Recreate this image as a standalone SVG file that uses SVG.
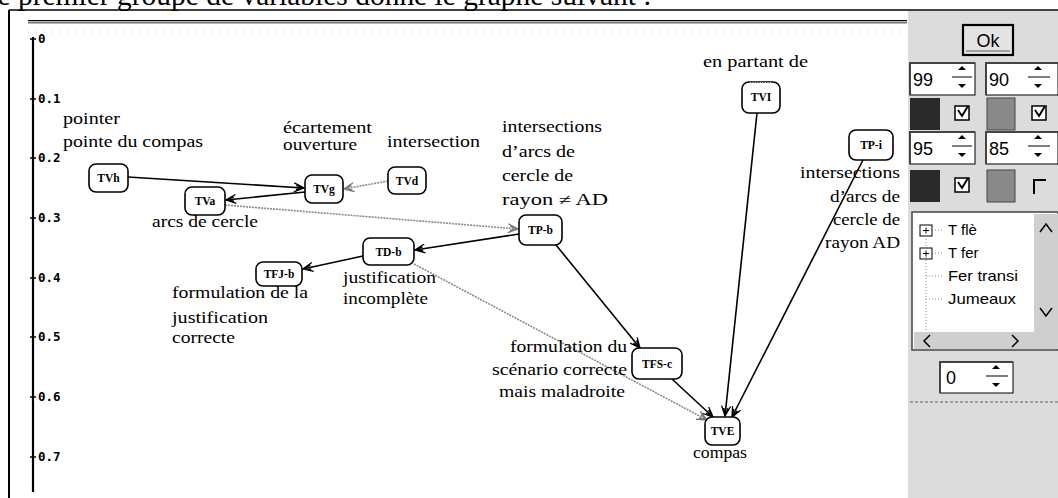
<svg xmlns="http://www.w3.org/2000/svg" width="1058" height="498" viewBox="0 0 1058 498">
<defs>
<style>
.lbl{font-family:"Liberation Serif","DejaVu Serif",serif;font-size:16px;fill:#000}
.nd rect{fill:#fff;stroke:#000;stroke-width:1.6}
.nd text{font-family:"Liberation Serif","DejaVu Serif",serif;font-size:11.5px;font-weight:bold;text-anchor:middle;fill:#000}
.blk{stroke:#000;stroke-width:1.6;fill:none;marker-end:url(#ab)}
.gry{stroke:#8a8a8a;stroke-width:1.6;fill:none;stroke-dasharray:2 1;marker-end:url(#ag)}
.ax{font-family:"DejaVu Sans Mono","Liberation Mono",monospace;font-size:12.5px;font-weight:bold;fill:#000}
.ui{font-family:"Liberation Sans","DejaVu Sans",sans-serif;fill:#000}
.box{fill:#fff;stroke:#000;stroke-width:1}
</style>
<marker id="ab" viewBox="0 0 12 10" refX="11" refY="5" markerWidth="12" markerHeight="10" markerUnits="userSpaceOnUse" orient="auto">
<path d="M1,0.5 L11,5 L1,9.5 M3,3 L11,5 L3,7" fill="none" stroke="#000" stroke-width="1.3"/>
</marker>
<marker id="ag" viewBox="0 0 12 10" refX="11" refY="5" markerWidth="12" markerHeight="10" markerUnits="userSpaceOnUse" orient="auto">
<path d="M1,0.5 L11,5 L1,9.5 M3,3 L11,5 L3,7" fill="none" stroke="#777" stroke-width="1.3"/>
</marker>
</defs>
<rect x="0" y="0" width="1058" height="498" fill="#fff"/>
<text x="-20.5" y="5" font-family="Liberation Serif,serif" font-size="29.5" textLength="672" lengthAdjust="spacingAndGlyphs">Le premier groupe de variables donne le graphe suivant :</text>
<!-- frame -->
<g id="frame" fill="none" stroke="#000">
<line x1="9" y1="10" x2="1058" y2="10" stroke-width="1.5"/>
<line x1="9" y1="10" x2="9" y2="498" stroke-width="2"/>
<line x1="28" y1="20.5" x2="907" y2="20.5" stroke-width="1"/>
<line x1="28" y1="22.5" x2="907" y2="22.5" stroke="#777" stroke-width="2"/>
<line x1="28" y1="32" x2="905" y2="32" stroke="#bbb" stroke-width="1" stroke-dasharray="1 7"/>
</g>
<!-- axis -->
<g id="axis">
<line x1="33" y1="37" x2="33" y2="492" stroke="#000" stroke-width="2.2"/>
<g stroke="#000" stroke-width="1.5">
<line x1="30" y1="39" x2="36" y2="39"/><line x1="30" y1="99" x2="36" y2="99"/><line x1="30" y1="158" x2="36" y2="158"/><line x1="30" y1="218" x2="36" y2="218"/><line x1="30" y1="278" x2="36" y2="278"/><line x1="30" y1="337" x2="36" y2="337"/><line x1="30" y1="397" x2="36" y2="397"/><line x1="30" y1="457" x2="36" y2="457"/>
</g>
<text class="ax" x="38" y="43">0</text>
<text class="ax" x="38" y="103">0.1</text>
<text class="ax" x="38" y="162">0.2</text>
<text class="ax" x="38" y="222">0.3</text>
<text class="ax" x="38" y="282">0.4</text>
<text class="ax" x="38" y="341">0.5</text>
<text class="ax" x="38" y="401">0.6</text>
<text class="ax" x="38" y="461">0.7</text>
</g>
<!-- connectors -->
<g id="connectors">
<path class="blk" d="M128,177 L304,188"/>
<path class="blk" d="M305,192 L226,200"/>
<path class="gry" d="M388,181 L344,189"/>
<path class="gry" d="M225,205 L518,229"/>
<path class="blk" d="M519,234 L415,250"/>
<path class="blk" d="M363,256 L303,269"/>
<path class="blk" d="M556,245 L640,348"/>
<path class="gry" d="M414,264 L707,420"/>
<path class="blk" d="M672,379 L713,417"/>
<path class="blk" d="M757,113 L725,416"/>
<path class="blk" d="M863,160 L732,417"/>
</g>
<!-- nodes -->
<g id="TVh" class="nd"><rect x="89" y="164" width="39" height="28" rx="7"/><text x="108.5" y="182">TVh</text></g>
<g id="TVa" class="nd"><rect x="185" y="187" width="40" height="28" rx="7"/><text x="205" y="205">TVa</text></g>
<g id="TVg" class="nd"><rect x="305" y="175" width="38" height="28" rx="7"/><text x="324" y="193">TVg</text></g>
<g id="TVd" class="nd"><rect x="388" y="167" width="38" height="27" rx="7"/><text x="407" y="185">TVd</text></g>
<g id="TP-b" class="nd"><rect x="519" y="215" width="43" height="30" rx="7"/><text x="540.5" y="234">TP-b</text></g>
<g id="TD-b" class="nd"><rect x="363" y="238" width="51" height="27" rx="7"/><text x="388.5" y="256">TD-b</text></g>
<g id="TFJ-b" class="nd"><rect x="256" y="262" width="46" height="24" rx="7"/><text x="279" y="278">TFJ-b</text></g>
<g id="TFS-c" class="nd"><rect x="632" y="348" width="50" height="31" rx="7"/><text x="657" y="368">TFS-c</text></g>
<g id="TVE" class="nd"><rect x="705" y="417" width="35" height="28" rx="7"/><text x="722.5" y="435">TVE</text></g>
<g id="TVI" class="nd"><rect x="742" y="82" width="38" height="31" rx="7"/><line x1="750" y1="83" x2="772" y2="83" stroke="#fff" stroke-width="1.6" stroke-dasharray="1 1.5"/><text x="761" y="101">TVI</text></g>
<g id="TP-i" class="nd"><rect x="849" y="130" width="44" height="30" rx="7"/><text x="871" y="149">TP-i</text></g>
<!-- labels -->
<g id="labels">
<text class="lbl" x="63" y="124" textLength="57" lengthAdjust="spacingAndGlyphs">pointer</text>
<text class="lbl" x="63" y="147" textLength="140" lengthAdjust="spacingAndGlyphs">pointe du compas</text>
<text class="lbl" x="283" y="133" textLength="89" lengthAdjust="spacingAndGlyphs">écartement</text>
<text class="lbl" x="283" y="150" textLength="74" lengthAdjust="spacingAndGlyphs">ouverture</text>
<text class="lbl" x="387" y="147" textLength="93" lengthAdjust="spacingAndGlyphs">intersection</text>
<text class="lbl" x="502" y="132" textLength="100" lengthAdjust="spacingAndGlyphs">intersections</text>
<text class="lbl" x="502" y="157" textLength="73" lengthAdjust="spacingAndGlyphs">d’arcs de</text>
<text class="lbl" x="502" y="181" textLength="71" lengthAdjust="spacingAndGlyphs">cercle de</text>
<text class="lbl" x="502" y="205" textLength="106" lengthAdjust="spacingAndGlyphs">rayon ≠ AD</text>
<text class="lbl" x="703" y="67" textLength="105" lengthAdjust="spacingAndGlyphs">en partant de</text>
<text class="lbl" x="800" y="178" textLength="100" lengthAdjust="spacingAndGlyphs">intersections</text>
<text class="lbl" x="830" y="202" textLength="70" lengthAdjust="spacingAndGlyphs">d’arcs de</text>
<text class="lbl" x="833" y="225" textLength="67" lengthAdjust="spacingAndGlyphs">cercle de</text>
<text class="lbl" x="825" y="248" textLength="75" lengthAdjust="spacingAndGlyphs">rayon AD</text>
<text class="lbl" x="152" y="227" textLength="106" lengthAdjust="spacingAndGlyphs">arcs de cercle</text>
<text class="lbl" x="343" y="283" textLength="93" lengthAdjust="spacingAndGlyphs">justification</text>
<text class="lbl" x="343" y="304" textLength="85" lengthAdjust="spacingAndGlyphs">incomplète</text>
<text class="lbl" x="172" y="298" textLength="136" lengthAdjust="spacingAndGlyphs">formulation de la</text>
<text class="lbl" x="172" y="323" textLength="96" lengthAdjust="spacingAndGlyphs">justification</text>
<text class="lbl" x="172" y="343" textLength="63" lengthAdjust="spacingAndGlyphs">correcte</text>
<text class="lbl" x="510" y="352" textLength="117" lengthAdjust="spacingAndGlyphs">formulation du</text>
<text class="lbl" x="492" y="375" textLength="135" lengthAdjust="spacingAndGlyphs">scénario correcte</text>
<text class="lbl" x="499" y="397" textLength="126" lengthAdjust="spacingAndGlyphs">mais maladroite</text>
<text class="lbl" x="693" y="458" textLength="54" lengthAdjust="spacingAndGlyphs">compas</text>
</g>
<!-- right panel -->
<g id="panel">
<rect x="908" y="11" width="150" height="487" fill="#dcdcdc"/>
<rect x="963" y="25" width="50" height="30" fill="#e4e4e4" stroke="#000" stroke-width="2.2"/>
<line x1="966" y1="51" x2="1010" y2="51" stroke="#888" stroke-width="1.5"/>
<text class="ui" x="988" y="47" font-size="18" text-anchor="middle">Ok</text>
<rect class="box" x="910" y="63" width="65" height="32"/>
<path d="M910,95 L910,63 L975,63" fill="none" stroke="#444" stroke-width="2"/>
<text class="ui" x="913" y="86" font-size="18">99</text>
<path d="M958,70 L962,66 L966,70 Z M958,84 L962,88 L966,84 Z" fill="#000"/>
<line x1="952" y1="77" x2="972" y2="77" stroke="#555" stroke-width="1.5"/>
<rect class="box" x="986" y="63" width="72" height="32"/>
<path d="M986,95 L986,63 L1058,63" fill="none" stroke="#444" stroke-width="2"/>
<text class="ui" x="989" y="86" font-size="18">90</text>
<path d="M1034,70 L1038,66 L1042,70 Z M1034,84 L1038,88 L1042,84 Z" fill="#000"/>
<line x1="1028" y1="77" x2="1050" y2="77" stroke="#555" stroke-width="1.5"/>
<rect x="910" y="98" width="30" height="32" fill="#2a2a2a"/>
<rect x="955" y="106" width="14" height="14" fill="#fff" stroke="#000" stroke-width="1.5"/>
<path d="M958,110 L962,116 L968,106" fill="none" stroke="#000" stroke-width="2"/>
<rect x="987" y="98" width="28" height="32" fill="#8a8a8a" stroke="#444" stroke-width="1"/>
<rect x="1032" y="106" width="14" height="14" fill="#fff" stroke="#000" stroke-width="1.5"/>
<path d="M1035,110 L1039,116 L1045,106" fill="none" stroke="#000" stroke-width="2"/>
<rect class="box" x="910" y="132" width="65" height="32"/>
<path d="M910,164 L910,132 L975,132" fill="none" stroke="#444" stroke-width="2"/>
<text class="ui" x="913" y="155" font-size="18">95</text>
<path d="M958,139 L962,135 L966,139 Z M958,153 L962,157 L966,153 Z" fill="#000"/>
<line x1="952" y1="146" x2="972" y2="146" stroke="#555" stroke-width="1.5"/>
<rect class="box" x="986" y="132" width="72" height="32"/>
<path d="M986,164 L986,132 L1058,132" fill="none" stroke="#444" stroke-width="2"/>
<text class="ui" x="989" y="155" font-size="18">85</text>
<path d="M1034,139 L1038,135 L1042,139 Z M1034,153 L1038,157 L1042,153 Z" fill="#000"/>
<line x1="1028" y1="146" x2="1050" y2="146" stroke="#555" stroke-width="1.5"/>
<rect x="910" y="170" width="30" height="32" fill="#2a2a2a"/>
<rect x="955" y="178" width="14" height="14" fill="#fff" stroke="#000" stroke-width="1.5"/>
<path d="M958,182 L962,188 L968,178" fill="none" stroke="#000" stroke-width="2"/>
<rect x="987" y="170" width="28" height="32" fill="#8a8a8a" stroke="#444" stroke-width="1"/>
<path d="M1034,194 L1034,180 L1046,180" fill="none" stroke="#000" stroke-width="2"/>
<rect x="912" y="212" width="146" height="138" fill="#fff" stroke="#444" stroke-width="1.5"/>
<rect x="1034" y="214" width="24" height="118" fill="#cfcfcf"/>
<path d="M1040,232 L1046,224 L1052,232" fill="none" stroke="#000" stroke-width="1.5"/>
<path d="M1040,308 L1046,316 L1052,308" fill="none" stroke="#000" stroke-width="1.5"/>
<rect x="914" y="332" width="144" height="17" fill="#cfcfcf"/>
<path d="M930,335 L924,341 L930,347" fill="none" stroke="#000" stroke-width="1.5"/>
<path d="M1012,335 L1018,341 L1012,347" fill="none" stroke="#000" stroke-width="1.5"/>
<rect x="920" y="225" width="12" height="11" fill="#fff" stroke="#000" stroke-width="1"/>
<path d="M923,230.5 L929,230.5 M926,227.5 L926,233.5" stroke="#000" stroke-width="1"/>
<rect x="920" y="248" width="12" height="11" fill="#fff" stroke="#000" stroke-width="1"/>
<path d="M923,253.5 L929,253.5 M926,250.5 L926,256.5" stroke="#000" stroke-width="1"/>
<path d="M926,236 L926,330 M932,230 L944,230 M932,253 L944,253 M926,276 L944,276 M926,299 L944,299" fill="none" stroke="#888" stroke-width="1" stroke-dasharray="1 2"/>
<text class="ui" x="948" y="235" font-size="15">T flè</text>
<text class="ui" x="948" y="258" font-size="15">T fer</text>
<text class="ui" x="948" y="281" font-size="15" textLength="70" lengthAdjust="spacingAndGlyphs">Fer transi</text>
<text class="ui" x="948" y="304" font-size="15" textLength="68" lengthAdjust="spacingAndGlyphs">Jumeaux</text>
<rect class="box" x="940" y="362" width="73" height="31"/>
<path d="M940,393 L940,362 L1013,362" fill="none" stroke="#444" stroke-width="2"/>
<text class="ui" x="946" y="384" font-size="18">0</text>
<path d="M992,369 L996,365 L1000,369 Z M992,383 L996,387 L1000,383 Z" fill="#000"/>
<line x1="986" y1="376" x2="1008" y2="376" stroke="#555" stroke-width="1.5"/>
<line x1="910" y1="402" x2="1058" y2="402" stroke="#888" stroke-width="1.5" stroke-dasharray="3 2"/>
</g>
</svg>
